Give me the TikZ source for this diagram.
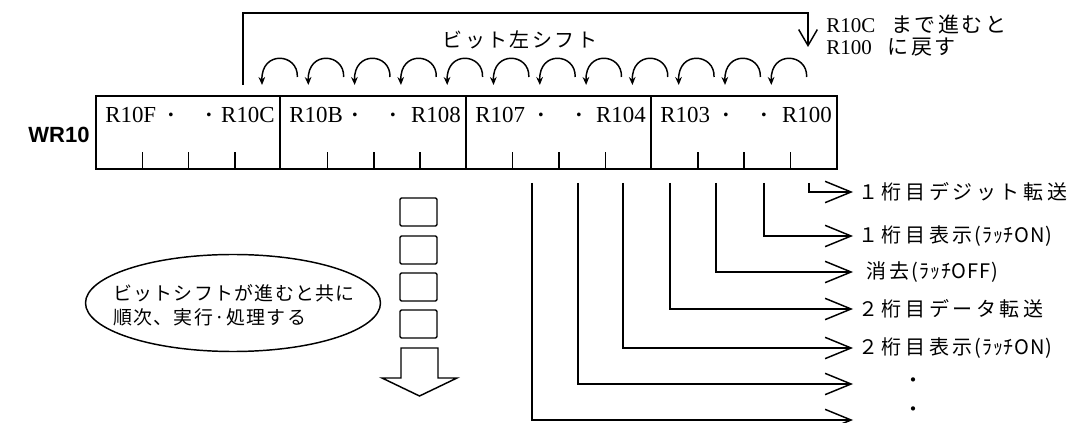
\documentclass[tikz,border=0pt]{standalone}
\usepackage{fontspec}
\setmainfont{Liberation Serif}
\newfontfamily\jpA[LetterSpace=18]{Noto Sans CJK JP}
\newfontfamily\jpB[LetterSpace=12]{Noto Sans CJK JP}
\newfontfamily\jpE[LetterSpace=7]{Noto Sans CJK JP}
\newfontfamily\jpC[LetterSpace=4]{Noto Sans CJK JP}
\newfontfamily\jpN{Noto Sans CJK JP}
\newfontfamily\wrfont{Liberation Sans}
\usetikzlibrary{arrows.meta,shapes.geometric}
\begin{document}
\begin{tikzpicture}[x=0.75pt,y=-0.75pt,
  ln/.style={line width=1.1pt},
  rl/.style={inner sep=0pt, font=\fontsize{17.2pt}{18pt}\selectfont},
  wr/.style={inner sep=0pt, font=\fontsize{16.5pt}{18pt}\selectfont\wrfont\bfseries},
  lbl/.style={anchor=west, inner sep=0pt, font=\fontsize{15pt}{18pt}\selectfont\jpA},
  chev/.style={line width=1.1pt, -{Straight Barb[length=19.5pt,width=16pt,line width=1.1pt]}},
  sa/.style={line width=1.1pt, -{Stealth[length=6pt,width=5pt]}},
]
\useasboundingbox (0,0) rectangle (1080,423);

% register box
\node[draw, line width=1.5pt, inner sep=0pt, minimum width=555.75pt, minimum height=54.75pt] (reg) at (466.5,132.5) {};
\foreach \d in {280,466,651} \draw[ln] (\d,96) -- (\d,169);
\foreach \k in {1,2,3,5,6,7,9,10,11,13,14,15} \draw[ln] (96+46.3*\k,169) -- (96+46.3*\k,152);

\node[wr] (wr) at (59,135) {WR10};
\foreach \L/\R/\a/\b/\n in {96/280/R10F/R10C/1, 280/466/R10B/R108/2, 466/651/R107/R104/3, 651/837/R103/R100/4} {
  \node[rl, anchor=base west] (ca\n) at (\L+9,123) {\a};
  \node[rl, anchor=base] (cd\n) at (\L+75,123) {\textbf{·}};
  \node[rl, anchor=base] (ce\n) at (\L+113,123) {\textbf{·}};
  \node[rl, anchor=base east] (cb\n) at (\R-5,123) {\b};
}

% shift arcs
\foreach \j in {3,...,14} {
  \pgfmathsetmacro\tip{96+46.3*(\j+0.5)+4}
  \pgfmathsetmacro\rend{96+46.3*(\j+1.5)-7}
  \draw[sa] (\rend,77) .. controls (\rend+1,53) and (\tip-1,50) .. (\tip,85);
}

% top bracket
\coordinate (brs) at (243,85);
\coordinate (brc) at (808,13);
\coordinate (bre) at (808,47);
\draw[ln, -{Straight Barb[length=12pt,width=14pt,line width=1.1pt]}] (brs) |- (brc) -- (bre);

\node[inner sep=0pt, font=\fontsize{15pt}{18pt}\selectfont\jpB] (shift) at (520,40) {ビット左シフト};
\node[anchor=west, inner sep=0pt, font=\fontsize{15.75pt}{18pt}\selectfont] (note1) at (826,24) {R10C\hspace{12pt}{\jpB まで進むと}};
\node[anchor=west, inner sep=0pt, font=\fontsize{15.75pt}{18pt}\selectfont] (note2) at (826,47) {R100\hspace{12pt}{\jpB に戻す}};

% squares and down arrow
\foreach \y/\n in {198/1,236/2,273/3,310/4}
  \node[draw, ln, rounded corners=1pt, minimum width=27.75pt, minimum height=21pt, inner sep=0pt] (sq\n) at (418.5,\y+14) {};
\draw[ln] (401,348) -- (438,348) -- (438,378) -- (457,378) -- (419.5,396) -- (382,378) -- (401,378) -- cycle;

% ellipse
\node[draw, ln, ellipse, minimum width=221.25pt, minimum height=72.75pt, inner sep=0pt] (ell) at (233,303) {};
\node[align=left, inner sep=0pt, font=\fontsize{14.2pt}{18pt}\selectfont\jpE] (elltxt) at (234,305) {ビットシフトが進むと共に\\順次、実行·処理する};

% output lines
\foreach \x/\y/\n in {809/192/1, 764/236/2, 716/272/3, 670/309/4, 623/348/5, 578/384/6, 532/420/7} {
  \coordinate (s\n) at (\x,183);
  \coordinate (t\n) at (853,\y);
  \draw[chev] (s\n) |- (t\n);
}
\node[lbl] (l1) at (858,192) {１桁目デジット転送};
\node[lbl] (l2) at (858,236) {１桁目表示\hspace{1.5pt}{\jpC (ﾗｯﾁON)}};
\node[lbl] (l3) at (866,272) {消去\hspace{1.5pt}{\jpC (ﾗｯﾁOFF)}};
\node[lbl] (l4) at (858,309) {２桁目データ転送};
\node[lbl] (l5) at (858,348) {２桁目表示\hspace{1.5pt}{\jpC (ﾗｯﾁON)}};
\node[inner sep=0pt, font=\fontsize{15pt}{18pt}\selectfont\jpN] (l6) at (913,383) {・};
\node[inner sep=0pt, font=\fontsize{15pt}{18pt}\selectfont\jpN] (l7) at (913,412) {・};
\end{tikzpicture}
\end{document}
